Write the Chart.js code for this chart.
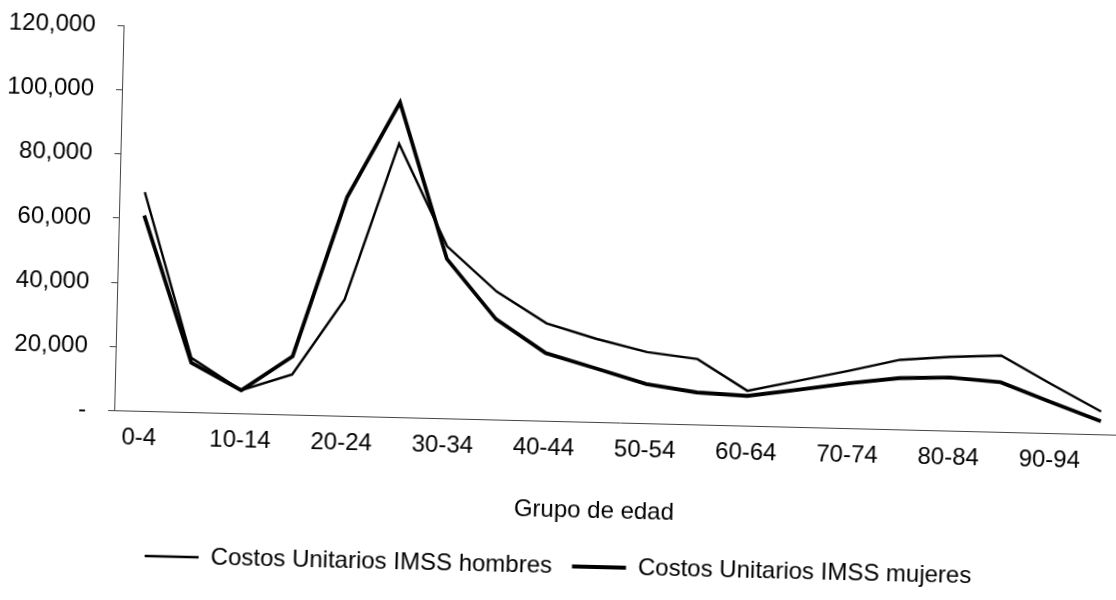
<!DOCTYPE html>
<html>
<head>
<meta charset="utf-8">
<script src="https://cdn.jsdelivr.net/npm/chart.js@4/dist/chart.umd.min.js"></script>
<style>
  html, body { margin: 0; padding: 0; background: #fff; overflow: hidden; }
  /* the scanned original is tilted a little clockwise */
  #wrap { position: absolute; left: 0; top: 0; width: 1130px; height: 600px;
          transform-origin: 558px 300px; transform: rotate(1.4deg); }
</style>
</head>
<body>
<div id="wrap"><canvas id="grafica" width="1130" height="600"></canvas></div>
<script>
// eje X: grupos de edad
var grupos = ['0-4', '5-9', '10-14', '15-19', '20-24', '25-29', '30-34', '35-39', '40-44', '45-49',
              '50-54', '55-59', '60-64', '65-69', '70-74', '75-79', '80-84', '85-89', '90-94', '95-99'];
// eje Y: costos unitarios
var hombres = [68300, 17000, 7300, 12600, 36400, 85300, 53700, 40000, 30500, 26000,
               22300, 20500, 11000, 14500, 18000, 21800, 23100, 23900, 15400, 7200];
var mujeres = [61000, 15500, 7300, 18300, 68300, 98200, 49800, 31400, 21200, 16800,
               12300, 10100, 9400, 11700, 14100, 16100, 16700, 15600, 9800, 4200];
var ticksY = [0, 20000, 40000, 60000, 80000, 100000, 120000];
var tituloX = 'Grupo de edad';

var ctx = document.getElementById('grafica').getContext('2d');
Chart.defaults.font.family = '"Liberation Sans", Arial, sans-serif';
Chart.defaults.font.size = 24;
Chart.defaults.color = '#000';

// el titulo del eje X va un poco a la izquierda del centro, como en el original
var tituloEje = {
    id: 'tituloEje',
    afterDraw: function (chart) {
        var area = chart.chartArea;
        var escala = chart.scales.x;
        var c = chart.ctx;
        c.save();
        c.font = '24px "Liberation Sans", Arial, sans-serif';
        c.fillStyle = '#000';
        c.textAlign = 'center';
        c.textBaseline = 'middle';
        c.fillText(tituloX, (area.left + area.right) / 2 - 24, escala.bottom - 24);
        c.restore();
    }
};

var grafica = new Chart(ctx, {
    type: 'line',
    data: {
        labels: grupos,
        datasets: [{
            label: 'Costos Unitarios IMSS hombres',
            data: hombres,
            borderColor: '#000',
            borderWidth: 2.4,
            pointRadius: 0,
            pointStyle: 'line',
            tension: 0
        }, {
            label: 'Costos Unitarios IMSS mujeres',
            data: mujeres,
            borderColor: '#000',
            borderWidth: 3.8,
            pointRadius: 0,
            pointStyle: 'line',
            tension: 0
        }]
    },
    plugins: [tituloEje],
    options: {
        responsive: false,
        animation: false,
        layout: { padding: { top: 25, left: 0, right: 1, bottom: 12 } },
        plugins: {
            tooltip: { enabled: false },
            legend: {
                position: 'bottom',
                labels: {
                    usePointStyle: true,
                    pointStyle: 'line',
                    pointStyleWidth: 54,
                    padding: 20,
                    color: '#000'
                }
            }
        },
        scales: {
            x: {
                offset: true,
                afterFit: function (axis) { axis.height = 112.6; },
                grid: { display: false, drawTicks: false },
                border: { display: true, color: '#444', width: 1 },
                ticks: {
                    autoSkip: false,
                    maxRotation: 0,
                    padding: 13,
                    callback: function (v, i) { return i % 2 === 0 ? grupos[i] : ''; }
                }
            },
            y: {
                min: 0,
                max: 120000,
                afterBuildTicks: function (axis) {
                    axis.ticks = ticksY.map(function (v) { return { value: v }; });
                },
                afterFit: function (axis) { axis.width = 117; },
                grid: { display: true, drawOnChartArea: false, tickLength: 6, color: '#444' },
                border: { display: true, color: '#444', width: 1 },
                ticks: {
                    padding: 22,
                    callback: function (v) { return v === 0 ? '-' : v.toLocaleString('en-US'); }
                }
            }
        }
    }
});
</script>
</body>
</html>
